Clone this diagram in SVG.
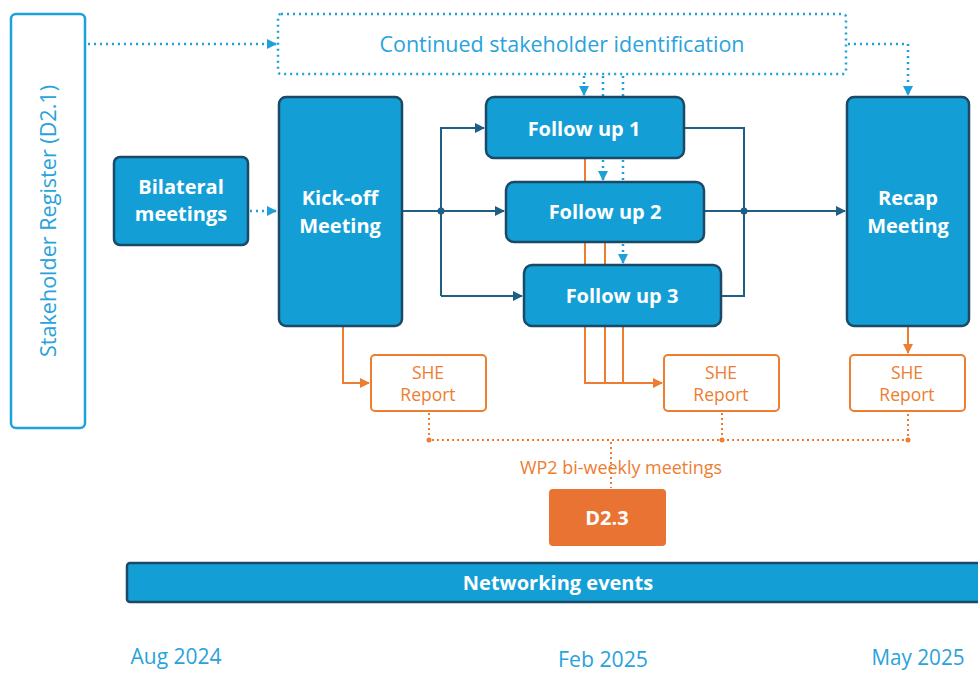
<svg xmlns="http://www.w3.org/2000/svg" width="978" height="681" viewBox="0 0 978 681">
<style>
.box{fill:#139fd6;stroke:#1b4a66;stroke-width:2.5}
.bt{fill:#fff;font-family:"Open Sans","Liberation Sans",sans-serif;font-weight:bold;font-size:20px;text-anchor:middle}
.lt{fill:#2aa2dc;font-family:"Open Sans","Liberation Sans",sans-serif;font-size:21px;text-anchor:middle}
.ot{fill:#ed7d31;font-family:"Open Sans","Liberation Sans",sans-serif;font-size:17.5px;text-anchor:middle}
.she{fill:#fff;stroke:#ed7d31;stroke-width:2}
.dl{fill:none;stroke:#1ea0d8;stroke-width:2.5;stroke-dasharray:2 4}
.dk{fill:none;stroke:#1f5f86;stroke-width:2}
.or{fill:none;stroke:#ed7d31;stroke-width:2}
.od{fill:none;stroke:#ed7d31;stroke-width:2;stroke-dasharray:2 3}
</style>
<defs>
<marker id="ab" markerWidth="10" markerHeight="10" refX="9" refY="5" orient="auto" markerUnits="userSpaceOnUse"><path d="M0,0 L10,5 L0,10 z" fill="#1ea0d8"/></marker>
<marker id="ad" markerWidth="10" markerHeight="10" refX="9" refY="5" orient="auto" markerUnits="userSpaceOnUse"><path d="M0,0 L10,5 L0,10 z" fill="#1f5f86"/></marker>
<marker id="ao" markerWidth="10" markerHeight="10" refX="9" refY="5" orient="auto" markerUnits="userSpaceOnUse"><path d="M0,0 L10,5 L0,10 z" fill="#ed7d31"/></marker>
</defs>

<g id="connectors">
<path class="or" d="M585,158 V383 H662" marker-end="url(#ao)"/>
<path class="or" d="M605,242 V383"/>
<path class="or" d="M623,326 V383"/>
<path class="or" d="M343,326 V383 H369" marker-end="url(#ao)"/>
<path class="or" d="M908,326 V353" marker-end="url(#ao)"/>
<path class="dl" d="M88,44 H276" marker-end="url(#ab)"/>
<path class="dl" d="M848,44 H908 V95" marker-end="url(#ab)"/>
<path class="dl" d="M584,76 V95" marker-end="url(#ab)"/>
<path class="dl" d="M603,76 V180" marker-end="url(#ab)"/>
<path class="dl" d="M623,76 V263" marker-end="url(#ab)"/>
<path class="dl" d="M250,211 H276" marker-end="url(#ab)"/>
<path class="dk" d="M402,211 H504" marker-end="url(#ad)"/>
<path class="dk" d="M441,296 V128 H484" marker-end="url(#ad)"/>
<path class="dk" d="M441,296 H522" marker-end="url(#ad)"/>
<path class="dk" d="M684,128 H744 V296 H721"/>
<path class="dk" d="M704,211 H845" marker-end="url(#ad)"/>
<circle cx="441" cy="211" r="3.5" fill="#1f5f86"/>
<circle cx="744" cy="211" r="3.5" fill="#1f5f86"/>
<path class="od" d="M429,413 V440 H908 V413"/>
<path class="od" d="M722,413 V440"/>
<path class="od" d="M611,442 V488"/>
<circle cx="429" cy="440" r="2.5" fill="#ed7d31"/>
<circle cx="722" cy="440" r="2.5" fill="#ed7d31"/>
<circle cx="908" cy="440" r="2.5" fill="#ed7d31"/>
</g>

<g id="stakeholder-register">
<rect x="11" y="14" width="74" height="414" rx="5" fill="#fff" stroke="#1ea0d8" stroke-width="2.5"/>
<text class="lt" transform="translate(56,221) rotate(-90)" textLength="272" lengthAdjust="spacingAndGlyphs">Stakeholder Register (D2.1)</text>
</g>
<g id="continued">
<rect x="278" y="14" width="568" height="60" rx="3" fill="none" class="dl"/>
<text class="lt" x="562" y="52" textLength="365" lengthAdjust="spacingAndGlyphs">Continued stakeholder identification</text>
</g>
<g id="bilateral">
<rect class="box" x="114" y="157" width="134" height="88" rx="6"/>
<text class="bt" x="181" y="194">Bilateral</text>
<text class="bt" x="181" y="221">meetings</text>
</g>
<g id="kickoff">
<rect class="box" x="279" y="97" width="123" height="229" rx="7"/>
<text class="bt" x="340" y="205">Kick-off</text>
<text class="bt" x="340" y="233">Meeting</text>
</g>
<g id="followup1">
<rect class="box" x="486" y="97" width="198" height="61" rx="8"/>
<text class="bt" x="584" y="136">Follow up 1</text>
</g>
<g id="followup2">
<rect class="box" x="506" y="182" width="198" height="60" rx="8"/>
<text class="bt" x="605" y="219">Follow up 2</text>
</g>
<g id="followup3">
<rect class="box" x="524" y="265" width="197" height="61" rx="8"/>
<text class="bt" x="622" y="303">Follow up 3</text>
</g>
<g id="recap">
<rect class="box" x="847" y="97" width="122" height="229" rx="7"/>
<text class="bt" x="908" y="205">Recap</text>
<text class="bt" x="908" y="233">Meeting</text>
</g>
<g id="she1">
<rect class="she" x="371" y="355" width="115" height="56" rx="4"/>
<text class="ot" x="428" y="379">SHE</text>
<text class="ot" x="428" y="401">Report</text>
</g>
<g id="she2">
<rect class="she" x="664" y="355" width="115" height="56" rx="4"/>
<text class="ot" x="721" y="379">SHE</text>
<text class="ot" x="721" y="401">Report</text>
</g>
<g id="she3">
<rect class="she" x="850" y="355" width="115" height="56" rx="4"/>
<text class="ot" x="907" y="379">SHE</text>
<text class="ot" x="907" y="401">Report</text>
</g>
<g id="wp2">
<text class="ot" x="621" y="474" textLength="202" lengthAdjust="spacingAndGlyphs">WP2 bi-weekly meetings</text>
</g>
<g id="d23">
<rect x="549" y="489" width="117" height="57" rx="4" fill="#e97332"/>
<text class="bt" x="607" y="525">D2.3</text>
</g>
<g id="networking">
<rect class="box" x="127" y="563" width="860" height="39" rx="3"/>
<text class="bt" x="558" y="590">Networking events</text>
</g>
<g id="dates">
<text class="lt" x="176" y="664" textLength="91" lengthAdjust="spacingAndGlyphs">Aug 2024</text>
<text class="lt" x="603" y="667" textLength="90" lengthAdjust="spacingAndGlyphs">Feb 2025</text>
<text class="lt" x="918" y="665" textLength="93" lengthAdjust="spacingAndGlyphs">May 2025</text>
</g>
</svg>
